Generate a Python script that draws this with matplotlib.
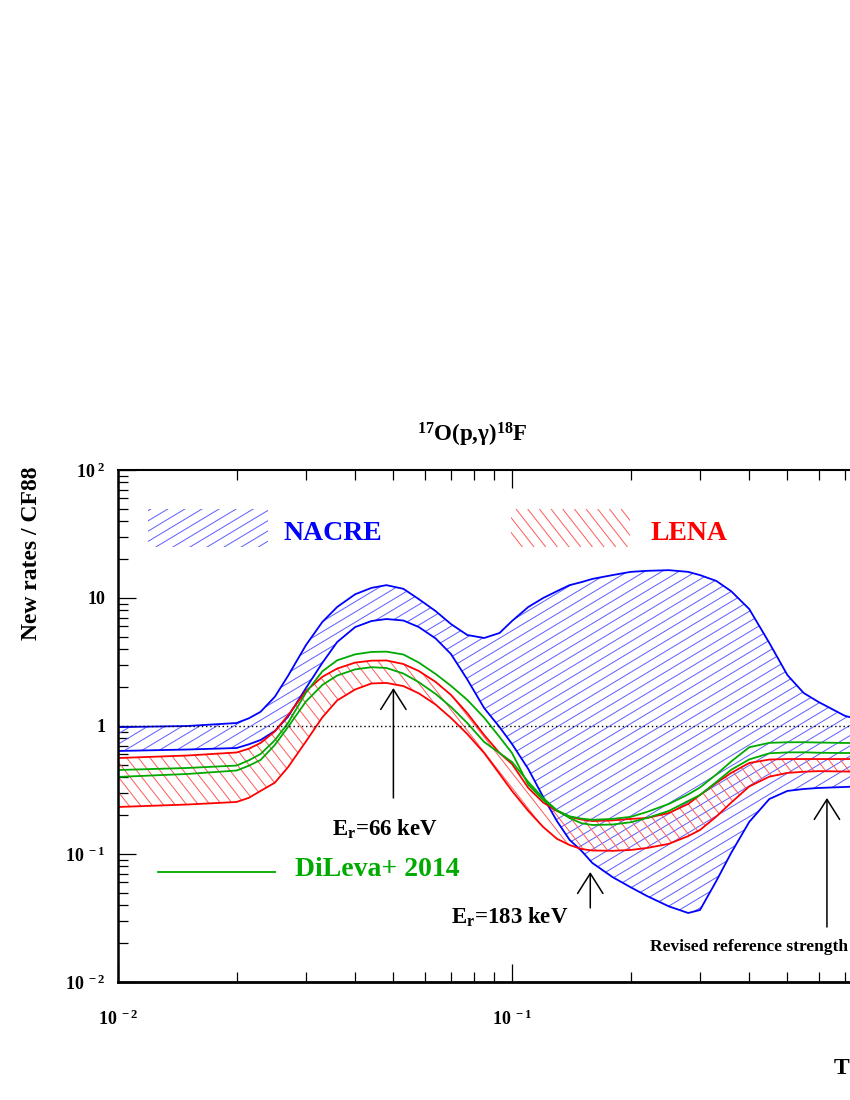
import numpy as np
import matplotlib
matplotlib.use("Agg")
import matplotlib.pyplot as plt
from matplotlib.collections import LineCollection
from matplotlib.patches import Rectangle
from matplotlib.ticker import FixedLocator, FixedFormatter, LogLocator, NullFormatter

plt.rcParams['font.family'] = ['Liberation Serif', 'DejaVu Serif']
plt.rcParams['font.weight'] = 'bold'
plt.rcParams['mathtext.fontset'] = 'custom'
plt.rcParams['mathtext.rm'] = 'Liberation Serif:bold'
plt.rcParams['mathtext.bf'] = 'Liberation Serif:bold'
plt.rcParams['mathtext.it'] = 'Liberation Serif:italic:bold'

# temperature grid (T9) and rate ratios
T = [0.010, 0.015, 0.020, 0.0215, 0.023, 0.025, 0.027, 0.030, 0.033, 0.036, 0.040,
     0.044, 0.048, 0.053, 0.058, 0.064, 0.070, 0.077, 0.085, 0.093, 0.10,
     0.11, 0.12, 0.13, 0.14, 0.15, 0.16, 0.18, 0.20, 0.22, 0.25,
     0.28, 0.30, 0.33, 0.36, 0.40, 0.45, 0.50, 0.55, 0.60, 0.70,
     0.80, 1.0]

nacre_hi = [0.98, 1.00, 1.055, 1.15, 1.29, 1.69, 2.46, 4.29, 6.49, 8.51, 10.7,
            12.0, 12.6, 11.8, 9.8, 7.9, 6.26, 5.14, 4.87, 5.33, 6.61,
            8.51, 10.0, 11.3, 12.6, 13.3, 14.1, 15.1, 16.0, 16.3, 16.5,
            16.0, 15.1, 13.6, 11.3, 8.2, 4.45, 2.50, 1.81, 1.54, 1.20,
            1.08, 1.0]
nacre_lo = [0.638, 0.655, 0.673, 0.72, 0.777, 0.914, 1.18, 1.98, 3.11, 4.53, 5.93,
            6.61, 6.85, 6.67, 5.93, 4.83, 3.65, 2.31, 1.38, 0.98, 0.724,
            0.461, 0.279, 0.181, 0.129, 0.106, 0.085, 0.066, 0.055, 0.047, 0.039,
            0.0346, 0.0365, 0.0615, 0.102, 0.178, 0.269, 0.311, 0.322, 0.328, 0.334,
            0.340, 0.346]

lena_hi = [0.562, 0.588, 0.621, 0.665, 0.737, 0.906, 1.21, 1.88, 2.42, 2.81, 3.13,
           3.24, 3.25, 3.05, 2.69, 2.21, 1.75, 1.26, 0.850, 0.615, 0.505,
           0.328, 0.2525, 0.217, 0.195, 0.186, 0.181, 0.183, 0.188, 0.191, 0.209,
           0.246, 0.289, 0.359, 0.430, 0.514, 0.547, 0.552, 0.552, 0.552, 0.552,
           0.552, 0.552]
lena_lo = [0.233, 0.2435, 0.255, 0.275, 0.311, 0.3605, 0.476, 0.758, 1.167, 1.585, 1.93,
           2.15, 2.17, 2.05, 1.80, 1.47, 1.155, 0.866, 0.615, 0.422, 0.311,
           0.217, 0.1625, 0.1315, 0.1175, 0.1094, 0.1065, 0.1059, 0.1075, 0.1114, 0.120,
           0.138, 0.154, 0.196, 0.252, 0.337, 0.402, 0.430, 0.439, 0.444, 0.441,
           0.437, 0.437]

dileva_hi = [0.453, 0.470, 0.491, 0.54, 0.604, 0.773, 1.055, 1.82, 2.67, 3.26, 3.63,
             3.79, 3.81, 3.62, 3.13, 2.55, 2.06, 1.60, 1.16, 0.820, 0.615,
             0.348, 0.264, 0.2195, 0.197, 0.189, 0.185, 0.188, 0.195, 0.213, 0.246,
             0.292, 0.331, 0.418, 0.528, 0.682, 0.739, 0.746, 0.747, 0.743, 0.737,
             0.737, 0.737]
dileva_lo = [0.400, 0.422, 0.449, 0.49, 0.5425, 0.710, 0.982, 1.556, 2.09, 2.48, 2.77,
             2.88, 2.84, 2.57, 2.20, 1.78, 1.41, 1.055, 0.75, 0.615, 0.523,
             0.365, 0.274, 0.219, 0.191, 0.174, 0.1685, 0.170, 0.177, 0.191, 0.217,
             0.2595, 0.289, 0.365, 0.455, 0.548, 0.612, 0.622, 0.623, 0.618, 0.615,
             0.615, 0.615]

# resonance markers: (T9, arrow tip, arrow tail)
arrows = [(0.050, 1.98, 0.274), (0.158, 0.0723, 0.0379), (0.63, 0.274, 0.0269)]

ytick_vals = [1e-2, 1e-1, 1, 10, 100]
ytick_labels = [r'$10^{\ -2}$', r'$10^{\ -1}$', '1', '10', r'$10^{\ 2}$']
xtick_vals = [1e-2, 1e-1, 1, 10]
xtick_labels = [r'$10^{\ -2}$', r'$10^{\ -1}$', '', '']

BLUE = '#0000ff'
RED = '#ff0000'
GREEN = '#00aa00'

FW, FH = 850, 1100
fig = plt.figure(figsize=(FW / 100, FH / 100), dpi=100)
# axes run past the right edge of the page, like the scanned figure
AX_L, AX_B, AX_W, AX_H = 118, 118, 1182, 512
ax = fig.add_axes([AX_L / FW, AX_B / FH, AX_W / FW, AX_H / FH])
ax.set_xscale('log')
ax.set_yscale('log')
ax.set_xlim(0.01, 10)
ax.set_ylim(0.01, 100)


def hatch(ax, clip, clip_tr, angle, spacing, color, lw=0.7):
    # straight hatch lines at any angle, clipped to a shape
    a = np.radians(angle)
    d = np.array([np.cos(a), np.sin(a)])
    n = np.array([-np.sin(a), np.cos(a)])
    L = np.hypot(AX_W, AX_H)
    c = np.array([AX_W / 2, AX_H / 2])
    segs = []
    for k in np.arange(-L / 2, L / 2, spacing):
        p = c + n * k
        segs.append([(p - d * L / 2) / [AX_W, AX_H], (p + d * L / 2) / [AX_W, AX_H]])
    lc = LineCollection(segs, colors=color, linewidths=lw, transform=ax.transAxes)
    ax.add_collection(lc)
    if clip_tr is None:
        lc.set_clip_path(clip)
    else:
        lc.set_clip_path(clip, clip_tr)
    return lc


band_n = ax.fill_between(T, nacre_lo, nacre_hi, facecolor='none', edgecolor='none')
hatch(ax, band_n.get_paths()[0], ax.transData, 31, 8.8, '#5c5cff')
band_l = ax.fill_between(T, lena_lo, lena_hi, facecolor='none', edgecolor='none')
hatch(ax, band_l.get_paths()[0], ax.transData, -52, 9.2, '#ff5a5a')

for ys, col in [(nacre_hi, BLUE), (nacre_lo, BLUE), (lena_hi, RED), (lena_lo, RED),
                (dileva_hi, GREEN), (dileva_lo, GREEN)]:
    ax.plot(T, ys, color=col, lw=1.3, solid_joinstyle='round')

ax.axhline(1.0, color='k', ls=(0, (1, 2)), lw=1.0)

for tx, tip, tail in arrows:
    ax.annotate('', xy=(tx, tip), xytext=(tx, tail),
                arrowprops=dict(arrowstyle='->,head_length=0.6,head_width=0.38',
                                color='k', lw=1.1, shrinkA=0, shrinkB=0,
                                mutation_scale=24))

ax.text(0.0476, 0.157, r'$\mathrm{E_r}$=66 keV', fontsize=16.5, ha='center', va='center')
ax.text(0.0988, 0.0322, r'$\mathrm{E_r}$=183 keV', fontsize=16.5, ha='center', va='center')
ax.text(0.40, 0.0188, 'Revised reference strength', fontsize=12.5, ha='center', va='center')

# legend entries
box_n = Rectangle((0.0254, 0.8496), 0.1015, 0.0742, transform=ax.transAxes,
                  fill=False, lw=0)
ax.add_patch(box_n)
hatch(ax, box_n, None, 31, 8.8, '#5c5cff')
ax.text(0.1396, 0.875, 'NACRE', color=BLUE, fontsize=20, ha='left', va='center',
        transform=ax.transAxes)
box_l = Rectangle((0.3325, 0.8496), 0.1007, 0.0742, transform=ax.transAxes,
                  fill=False, lw=0)
ax.add_patch(box_l)
hatch(ax, box_l, None, -52, 9.2, '#ff5a5a')
ax.text(0.4501, 0.875, 'LENA', color=RED, fontsize=20, ha='left', va='center',
        transform=ax.transAxes)
ax.plot([0.0338, 0.1328], [0.2148, 0.2148], color=GREEN, lw=1.3, transform=ax.transAxes)
ax.text(0.1497, 0.2188, 'DiLeva+ 2014', color=GREEN, fontsize=20, ha='left', va='center',
        transform=ax.transAxes)

# axes styling
ax.yaxis.set_major_locator(FixedLocator(ytick_vals))
ax.yaxis.set_major_formatter(FixedFormatter(ytick_labels))
ax.yaxis.set_minor_locator(LogLocator(base=10, subs=np.arange(2, 10), numticks=20))
ax.yaxis.set_minor_formatter(NullFormatter())
ax.xaxis.set_major_locator(FixedLocator(xtick_vals))
ax.xaxis.set_major_formatter(FixedFormatter(xtick_labels))
ax.xaxis.set_minor_locator(LogLocator(base=10, subs=np.arange(2, 10), numticks=20))
ax.xaxis.set_minor_formatter(NullFormatter())
ax.tick_params(which='both', direction='in', top=True, right=True, width=0.9, color='k')
ax.tick_params(which='major', length=13)
ax.tick_params(which='minor', length=7)
ax.tick_params(axis='y', which='major', labelsize=13, pad=9)
ax.tick_params(axis='x', which='major', labelsize=13, pad=20)
ax.spines['left'].set_linewidth(1.8)
ax.spines['bottom'].set_linewidth(2.0)
ax.spines['top'].set_linewidth(1.5)

fig.text(472 / FW, 1 - 435 / FH, r'$^{17}$O(p,γ)$^{18}$F', fontsize=16.5,
         ha='center', va='center')
fig.text(32 / FW, 1 - 553 / FH, 'New rates / CF88', fontsize=17, rotation=90,
         ha='center', va='center')
fig.text(834 / FW, 1 - 1068 / FH, 'T', fontsize=17, ha='left', va='center')

fig.savefig('out.png', dpi=100)
